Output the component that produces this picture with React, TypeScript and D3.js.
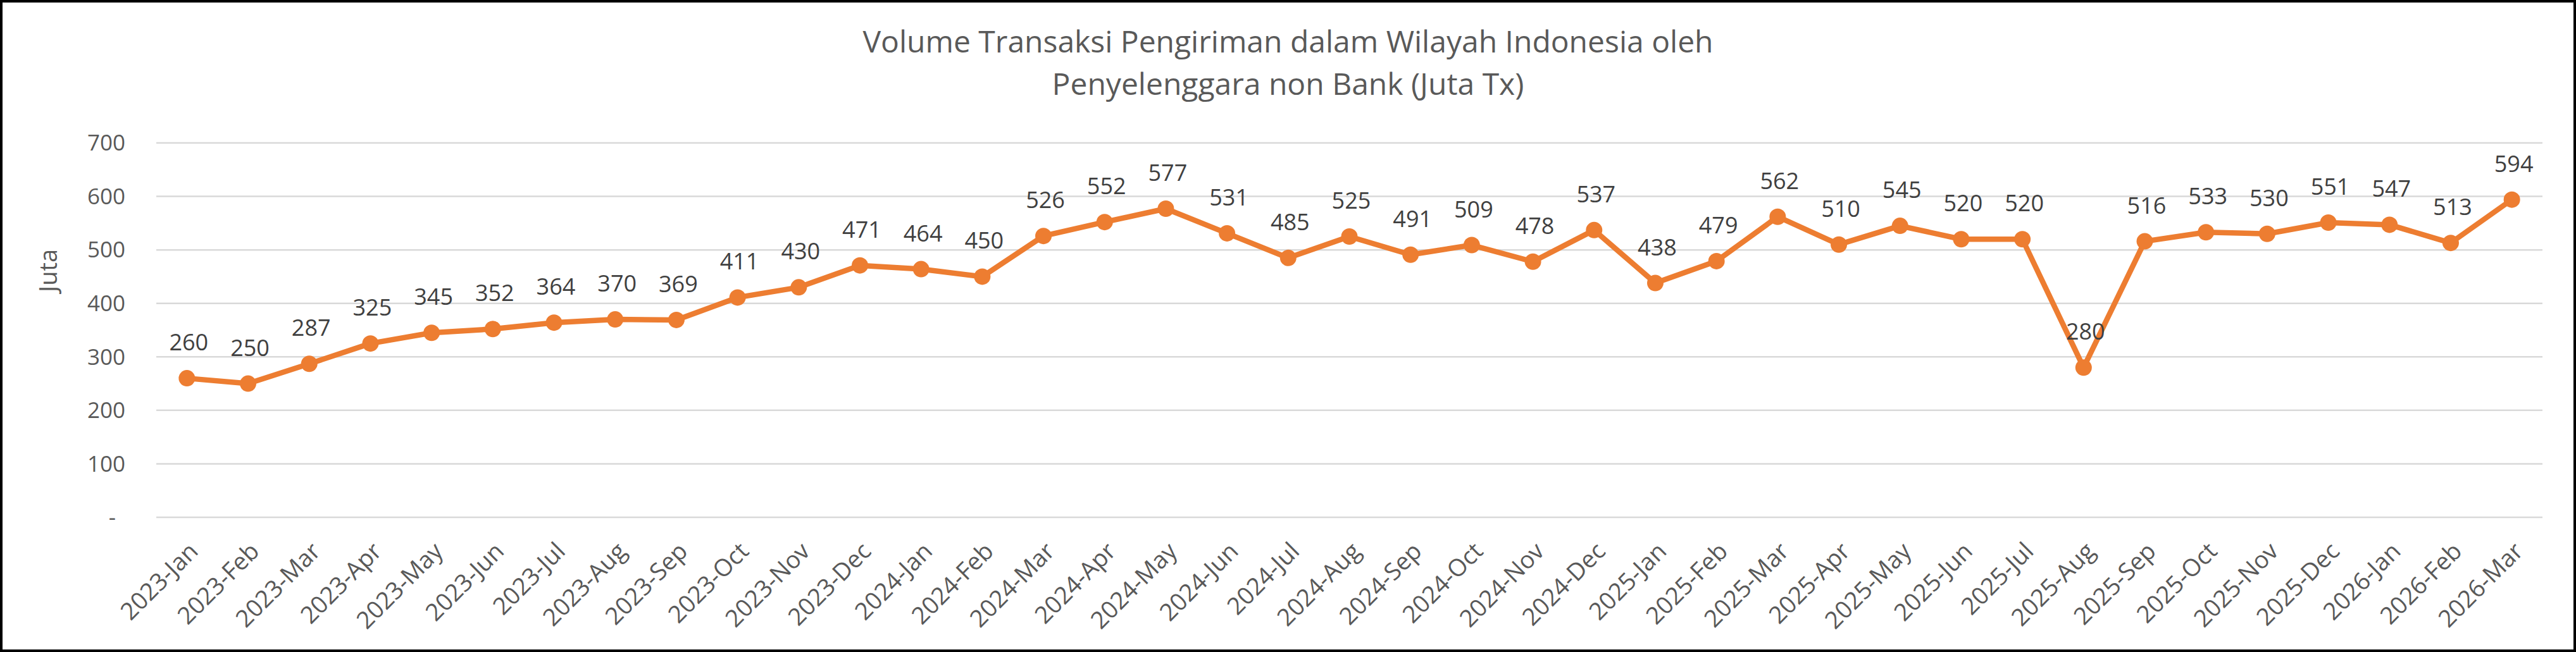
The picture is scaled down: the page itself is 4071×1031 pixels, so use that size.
import { useEffect, useRef } from 'react';
import { scaleBand, scaleLinear, select, line } from 'd3';

const months = [
  '2023-Jan', '2023-Feb', '2023-Mar', '2023-Apr', '2023-May', '2023-Jun',
  '2023-Jul', '2023-Aug', '2023-Sep', '2023-Oct', '2023-Nov', '2023-Dec',
  '2024-Jan', '2024-Feb', '2024-Mar', '2024-Apr', '2024-May', '2024-Jun',
  '2024-Jul', '2024-Aug', '2024-Sep', '2024-Oct', '2024-Nov', '2024-Dec',
  '2025-Jan', '2025-Feb', '2025-Mar', '2025-Apr', '2025-May', '2025-Jun',
  '2025-Jul', '2025-Aug', '2025-Sep', '2025-Oct', '2025-Nov', '2025-Dec',
  '2026-Jan', '2026-Feb', '2026-Mar',
];

const volumes = [
  260, 250, 287, 325, 345, 352, 364, 370, 369, 411, 430, 471,
  464, 450, 526, 552, 577, 531, 485, 525, 491, 509, 478, 537,
  438, 479, 562, 510, 545, 520, 520, 280, 516, 533, 530, 551,
  547, 513, 594,
];

const yTicks = [0, 100, 200, 300, 400, 500, 600, 700];

const titleLines = [
  'Volume Transaksi Pengiriman dalam Wilayah Indonesia oleh',
  'Penyelenggara non Bank (Juta Tx)',
];

export default function App() {
  const svgRef = useRef<SVGSVGElement>(null);

  useEffect(() => {
    const width = 4071;
    const height = 1031;
    const plot = { left: 247, right: 4018, top: 226, bottom: 818 };
    const font = "'Open Sans', 'Noto Sans', sans-serif";
    const orange = '#ED7D31';

    const svg = select(svgRef.current);
    svg.selectAll('*').remove();
    svg.attr('width', width).attr('height', height);

    svg.append('rect')
      .attr('width', width).attr('height', height)
      .attr('fill', '#fff');

    const x = scaleBand<string>()
      .domain(months)
      .range([plot.left, plot.right])
      .padding(0);

    const y = scaleLinear()
      .domain([0, 700])
      .range([plot.bottom, plot.top]);

    const cx = (d: string) => (x(d) ?? 0) + x.bandwidth() / 2;

    // gridlines
    svg.append('g')
      .selectAll('line')
      .data(yTicks)
      .enter()
      .append('line')
      .attr('x1', plot.left)
      .attr('x2', plot.right)
      .attr('y1', (d) => y(d))
      .attr('y2', (d) => y(d))
      .attr('stroke', '#d9d9d9')
      .attr('stroke-width', 2.5);

    // y tick labels
    svg.append('g')
      .selectAll('text')
      .data(yTicks)
      .enter()
      .append('text')
      .attr('x', (d) => (d === 0 ? 183 : 198))
      .attr('y', (d) => y(d))
      .attr('dy', '0.35em')
      .attr('text-anchor', 'end')
      .attr('font-family', font)
      .attr('font-size', 35)
      .attr('fill', '#595959')
      .text((d) => (d === 0 ? '-' : String(d)));

    // y axis title
    svg.append('text')
      .attr('transform', 'translate(90, 428) rotate(-90)')
      .attr('text-anchor', 'middle')
      .attr('font-family', font)
      .attr('font-size', 38)
      .attr('fill', '#595959')
      .text('Juta');

    // x labels
    svg.append('g')
      .selectAll('text')
      .data(months)
      .enter()
      .append('text')
      .attr('transform', (d) => `translate(${cx(d) + 20}, 874) rotate(-45)`)
      .attr('text-anchor', 'end')
      .attr('font-family', font)
      .attr('font-size', 38)
      .attr('fill', '#595959')
      .text((d) => d);

    const pts = months.map((m, i) => ({ m, v: volumes[i] }));

    const path = line<{ m: string; v: number }>()
      .x((d) => cx(d.m))
      .y((d) => y(d.v));

    svg.append('path')
      .datum(pts)
      .attr('d', path)
      .attr('fill', 'none')
      .attr('stroke', orange)
      .attr('stroke-width', 8.5)
      .attr('stroke-linejoin', 'round')
      .attr('stroke-linecap', 'round');

    svg.append('g')
      .selectAll('circle')
      .data(pts)
      .enter()
      .append('circle')
      .attr('cx', (d) => cx(d.m))
      .attr('cy', (d) => y(d.v))
      .attr('r', 13)
      .attr('fill', orange);

    // data labels
    svg.append('g')
      .selectAll('text')
      .data(pts)
      .enter()
      .append('text')
      .attr('x', (d) => cx(d.m) + 3)
      .attr('y', (d) => y(d.v) - 44)
      .attr('text-anchor', 'middle')
      .attr('font-family', font)
      .attr('font-size', 36)
      .attr('fill', '#404040')
      .text((d) => String(d.v));

    // title
    svg.append('g')
      .selectAll('text')
      .data(titleLines)
      .enter()
      .append('text')
      .attr('x', width / 2)
      .attr('y', (_, i) => 83 + i * 67)
      .attr('text-anchor', 'middle')
      .attr('font-family', font)
      .attr('font-size', 48)
      .attr('fill', '#595959')
      .text((d) => d);

    // outer border
    svg.append('rect')
      .attr('x', 2).attr('y', 2)
      .attr('width', width - 4).attr('height', height - 4)
      .attr('fill', 'none')
      .attr('stroke', '#000')
      .attr('stroke-width', 4);
  }, []);

  return (
    <div style={{ position: 'absolute', left: 0, top: 0 }}>
      <svg ref={svgRef} style={{ display: 'block' }}></svg>
    </div>
  );
}
